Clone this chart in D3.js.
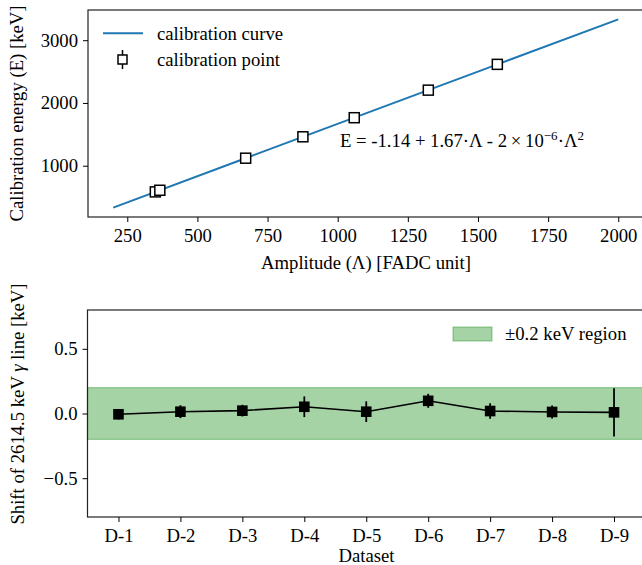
<!DOCTYPE html>
<html>
<head>
<meta charset="utf-8">
<script src="https://cdn.jsdelivr.net/npm/d3@7"></script>
<style>
  body { margin: 0; background: #fff; }
  svg { display: block; }
</style>
</head>
<body>
<svg id="chart" width="642" height="565"></svg>
<script>
// top panel: calibration
const curveAmp = [200, 650, 1100, 1550, 2000];
const curveEnergy = [333, 1084, 1833, 2583, 3331];
const pointAmp = [350, 366, 672, 876, 1059, 1323, 1569];
const pointEnergy = [583, 609, 1120, 1461, 1765, 2204, 2615];
const pointErr = [3, 3, 4, 4, 5, 5, 6];
const ampTicks = [250, 500, 750, 1000, 1250, 1500, 1750, 2000];
const energyTicks = [1000, 2000, 3000];

// bottom panel: shift of the 2614.5 keV line
const datasets = ["D-1", "D-2", "D-3", "D-4", "D-5", "D-6", "D-7", "D-8", "D-9"];
const shift = [-0.006, 0.014, 0.022, 0.052, 0.014, 0.098, 0.019, 0.012, 0.009];
const shiftErr = [0.04, 0.05, 0.045, 0.08, 0.08, 0.054, 0.06, 0.05, 0.186];
const shiftTicks = [-0.5, 0, 0.5];
const bandHalf = 0.2;

const fs = 18.7;
const serif = "'Liberation Serif', 'Times New Roman', serif";
const svg = d3.select("#chart");

function styleAxis(g) {
    g.attr("font-family", serif);
    g.select(".domain").remove();
    g.selectAll(".tick line").attr("stroke", "#000").attr("stroke-width", 1);
    g.selectAll(".tick text").attr("fill", "#000").style("font-size", fs + "px");
}

// ---------- top panel ----------
const box1 = {left: 88, right: 643.5, top: 10, bottom: 217};
const x1 = d3.scaleLinear().domain([110, 2090]).range([box1.left, box1.right]);
const y1 = d3.scaleLinear().domain([183, 3481]).range([box1.bottom, box1.top]);

const g1 = svg.append("g");

g1.append("path")
    .datum(curveAmp.map((a, i) => [a, curveEnergy[i]]))
    .attr("d", d3.line().x(d => x1(d[0])).y(d => y1(d[1])))
    .attr("fill", "none")
    .attr("stroke", "#1f77b4")
    .attr("stroke-width", 2);

const pts = g1.append("g").selectAll("g")
    .data(pointAmp.map((a, i) => ({a: a, e: pointEnergy[i], err: pointErr[i]})))
    .join("g");
pts.append("line")
    .attr("x1", d => x1(d.a)).attr("x2", d => x1(d.a))
    .attr("y1", d => y1(d.e - d.err)).attr("y2", d => y1(d.e + d.err))
    .attr("stroke", "#000").attr("stroke-width", 1.5);
pts.append("rect")
    .attr("x", d => x1(d.a) - 5).attr("y", d => y1(d.e) - 5)
    .attr("width", 10).attr("height", 10)
    .attr("fill", "#fff").attr("stroke", "#000").attr("stroke-width", 1.5);

g1.append("rect")
    .attr("x", box1.left).attr("y", box1.top)
    .attr("width", box1.right - box1.left).attr("height", box1.bottom - box1.top)
    .attr("fill", "none").attr("stroke", "#222").attr("stroke-width", 1.2);

g1.append("g")
    .attr("transform", `translate(0,${box1.bottom})`)
    .call(d3.axisBottom(x1).tickValues(ampTicks).tickSize(5).tickPadding(7).tickFormat(d3.format("d")))
    .call(styleAxis);

g1.append("g")
    .attr("transform", `translate(${box1.left},0)`)
    .call(d3.axisLeft(y1).tickValues(energyTicks).tickSize(5).tickPadding(5).tickFormat(d3.format("d")))
    .call(styleAxis);

g1.append("text")
    .attr("x", 366).attr("y", 269)
    .attr("text-anchor", "middle")
    .text("Amplitude (\u039B) [FADC unit]");

g1.append("text")
    .attr("transform", `translate(23,${(box1.top + box1.bottom) / 2}) rotate(-90)`)
    .attr("text-anchor", "middle")
    .text("Calibration energy (E) [keV]");

// legend
g1.append("line")
    .attr("x1", 103).attr("x2", 143).attr("y1", 33.3).attr("y2", 33.3)
    .attr("stroke", "#1f77b4").attr("stroke-width", 2);
g1.append("text").attr("x", 157).attr("y", 40).text("calibration curve");
g1.append("line")
    .attr("x1", 122.5).attr("x2", 122.5).attr("y1", 50).attr("y2", 69)
    .attr("stroke", "#000").attr("stroke-width", 1.5);
g1.append("rect")
    .attr("x", 118).attr("y", 55).attr("width", 9).attr("height", 9)
    .attr("fill", "#fff").attr("stroke", "#000").attr("stroke-width", 1.5);
g1.append("text").attr("x", 157).attr("y", 66).text("calibration point");

// equation
const eq = g1.append("text").attr("x", 340).attr("y", 146.5);
eq.append("tspan").text("E = -1.14 + 1.67\u00B7\u039B - 2\u2009\u00D7\u200910");
eq.append("tspan").attr("dy", -7).style("font-size", (fs * 0.7) + "px").text("\u22126");
eq.append("tspan").attr("dy", 7).text("\u00B7\u039B");
eq.append("tspan").attr("dy", -7).style("font-size", (fs * 0.7) + "px").text("2");

// ---------- bottom panel ----------
const box2 = {left: 87.5, right: 645, top: 310, bottom: 517};
const x2 = d3.scaleLinear().domain([-0.5, 8.5]).range([box2.left, box2.right]);
const y2 = d3.scaleLinear().domain([-0.8, 0.8]).range([box2.bottom, box2.top]);

const g2 = svg.append("g");

g2.append("rect")
    .attr("x", box2.left).attr("width", box2.right - box2.left)
    .attr("y", y2(bandHalf)).attr("height", y2(-bandHalf) - y2(bandHalf))
    .attr("fill", "green").attr("fill-opacity", 0.35)
    .attr("stroke", "green").attr("stroke-opacity", 0.35).attr("stroke-width", 1.2);

g2.append("path")
    .datum(shift)
    .attr("d", d3.line().x((d, i) => x2(i)).y(d => y2(d)))
    .attr("fill", "none").attr("stroke", "#000").attr("stroke-width", 1.6);

const sp = g2.append("g").selectAll("g")
    .data(shift.map((v, i) => ({i: i, v: v, err: shiftErr[i]})))
    .join("g");
sp.append("line")
    .attr("x1", d => x2(d.i)).attr("x2", d => x2(d.i))
    .attr("y1", d => y2(d.v - d.err)).attr("y2", d => y2(d.v + d.err))
    .attr("stroke", "#000").attr("stroke-width", 1.8);
sp.append("rect")
    .attr("x", d => x2(d.i) - 5.3).attr("y", d => y2(d.v) - 5.3)
    .attr("width", 10.6).attr("height", 10.6)
    .attr("fill", "#000");

g2.append("rect")
    .attr("x", box2.left).attr("y", box2.top)
    .attr("width", box2.right - box2.left).attr("height", box2.bottom - box2.top)
    .attr("fill", "none").attr("stroke", "#222").attr("stroke-width", 1.2);

g2.append("g")
    .attr("transform", `translate(0,${box2.bottom})`)
    .call(d3.axisBottom(x2).tickValues(d3.range(datasets.length)).tickSize(5).tickPadding(7)
        .tickFormat(i => datasets[i]))
    .call(styleAxis);

g2.append("g")
    .attr("transform", `translate(${box2.left},0)`)
    .call(d3.axisLeft(y2).tickValues(shiftTicks).tickSize(5).tickPadding(5).tickFormat(d3.format(".1f")))
    .call(styleAxis);

g2.append("text")
    .attr("x", 366.5).attr("y", 562)
    .attr("text-anchor", "middle")
    .text("Dataset");

const yl = g2.append("text")
    .attr("transform", "translate(24,404) rotate(-90)")
    .attr("text-anchor", "middle");
yl.append("tspan").text("Shift of 2614.5 keV ");
yl.append("tspan").style("font-style", "italic").text("\u03B3");
yl.append("tspan").text(" line [keV]");

// legend
g2.append("rect")
    .attr("x", 453).attr("y", 327).attr("width", 39).attr("height", 14)
    .attr("fill", "green").attr("fill-opacity", 0.35)
    .attr("stroke", "green").attr("stroke-opacity", 0.35).attr("stroke-width", 1.2);
g2.append("text").attr("x", 505).attr("y", 340).text("\u00B10.2 keV region");

// same serif face for every label
svg.selectAll("g > text")
    .attr("font-family", serif)
    .style("font-size", function() { return this.style.fontSize || fs + "px"; });
svg.selectAll("tspan").style("font-family", serif);
</script>
</body>
</html>
